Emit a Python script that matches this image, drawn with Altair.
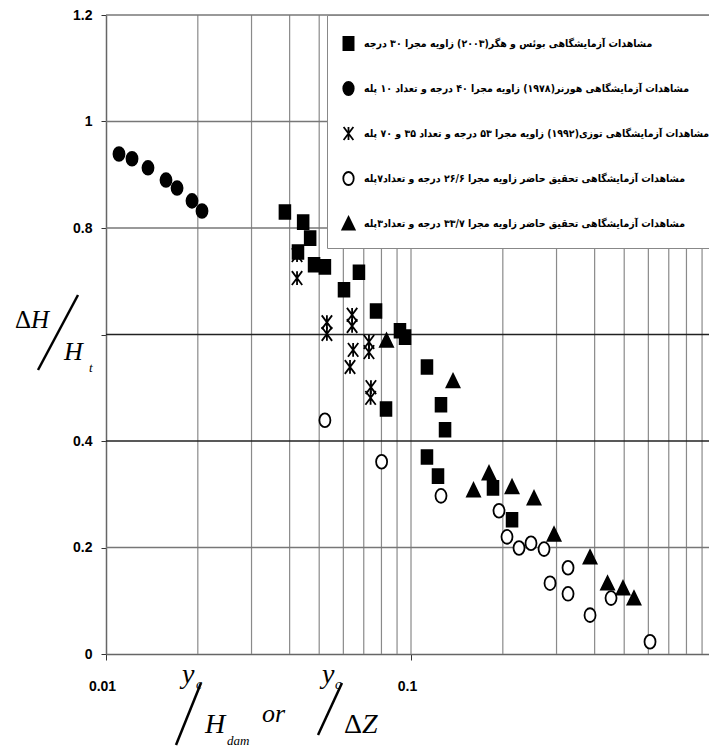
import altair as alt
import pandas as pd

# ---------------- data ----------------
series_names = [
    "مشاهدات آزمایشگاهی بوئس و هگر(۲۰۰۳) زاویه مجرا ۳۰ درجه",
    "مشاهدات آزمایشگاهی هورنر(۱۹۷۸) زاویه مجرا ۴۰ درجه و تعداد ۱۰ پله",
    "مشاهدات آزمایشگاهی توزی(۱۹۹۲) زاویه مجرا ۵۳ درجه و تعداد ۳۵ و ۷۰ پله",
    "مشاهدات آزمایشگاهی تحقیق حاضر زاویه مجرا ۲۶/۶ درجه و تعداد۷پله",
    "مشاهدات آزمایشگاهی تحقیق حاضر زاویه مجرا ۳۳/۷ درجه و تعداد۳پله",
]

boes_x = [0.0386, 0.0443, 0.0467, 0.0426, 0.0481, 0.0522, 0.0675, 0.0603, 0.0768, 0.0920,
          0.0956, 0.1128, 0.0828, 0.1254, 0.1293, 0.1128, 0.1226, 0.1857, 0.2144]
boes_y = [0.830, 0.811, 0.781, 0.755, 0.731, 0.727, 0.717, 0.684, 0.644, 0.607,
          0.595, 0.539, 0.460, 0.468, 0.421, 0.370, 0.334, 0.312, 0.252]

horner_x = [0.01103, 0.01217, 0.01373, 0.01573, 0.01710, 0.01914, 0.02064]
horner_y = [0.939, 0.930, 0.913, 0.890, 0.875, 0.851, 0.832]

tozzi_x = [0.0423, 0.0423, 0.0530, 0.0530, 0.0641, 0.0641, 0.0646, 0.0631, 0.0728, 0.0728, 0.0739, 0.0737]
tozzi_y = [0.749, 0.706, 0.623, 0.601, 0.637, 0.616, 0.571, 0.539, 0.586, 0.567, 0.501, 0.481]

present7_x = [0.0522, 0.0801, 0.1254, 0.1943, 0.2064, 0.2260, 0.2474, 0.2730, 0.2856, 0.3272,
              0.3272, 0.3863, 0.4527, 0.6076]
present7_y = [0.439, 0.361, 0.297, 0.269, 0.220, 0.199, 0.208, 0.197, 0.133, 0.162,
              0.113, 0.073, 0.105, 0.023]

present3_x = [0.0831, 0.1373, 0.1603, 0.1802, 0.2144, 0.2531, 0.2944, 0.3863, 0.4410, 0.4955, 0.5383]
present3_y = [0.589, 0.513, 0.308, 0.340, 0.314, 0.293, 0.225, 0.182, 0.133, 0.124, 0.105]

x_grid = [0.02, 0.03, 0.04, 0.05, 0.06, 0.07, 0.08, 0.09, 0.1,
          0.2, 0.3, 0.4, 0.5, 0.6, 0.7, 0.8, 0.9]
y_grid_light = [0.2, 0.8, 1.0, 1.2]
y_grid_dark = [0.4, 0.6]
x_tick_values = [0.01, 0.1]
y_tick_values = [0, 0.2, 0.4, 0.6, 0.8, 1.0, 1.2]

# ---------------- build tables ----------------
frames = []
for name, xs, ys in zip(series_names,
                        [boes_x, horner_x, tozzi_x, present7_x, present3_x],
                        [boes_y, horner_y, tozzi_y, present7_y, present3_y]):
    frames.append(pd.DataFrame({"x": xs, "y": ys, "series": name}))
pts = pd.concat(frames, ignore_index=True)

shape_square = "M-0.78,-1H0.78V1H-0.78Z"
shape_ellipse = "M0,-1A0.8,1 0 1,1 0,1A0.8,1 0 1,1 0,-1Z"
shape_star = "M-0.75,-1L0.75,1M0.75,-1L-0.75,1M0,-1V1"
shape_tri = "M0,-1L0.95,0.95H-0.95Z"

xscale = alt.Scale(type="log", domain=[0.01, 0.9484], nice=False)
yscale = alt.Scale(domain=[0, 1.2], nice=False)

xaxis = alt.Axis(values=x_tick_values, format="~g", grid=False, title=None,
                 tickSize=6, tickColor="#333", domainColor="#666", domainWidth=1.5,
                 labelPadding=19, labelOffset=-4, labelFlush=False,
                 labelFont="Liberation Sans",
                 labelFontSize=14, labelFontWeight="bold", labelColor="black")
yaxis = alt.Axis(values=y_tick_values, format="~g", grid=False, title=None,
                 labelExpr="datum.value == 0.6 ? '' : datum.label",
                 tickSize=5, tickColor="#333", domainColor="#666", domainWidth=1.5,
                 labelPadding=9, labelFlush=False, labelFont="Liberation Sans",
                 labelFontSize=14, labelFontWeight="bold", labelColor="black")

X = alt.X("x:Q", scale=xscale, axis=xaxis)
Y = alt.Y("y:Q", scale=yscale, axis=yaxis)

vgrid = alt.Chart(pd.DataFrame({"x": x_grid})).mark_rule(
    color="#8a8a8a", strokeWidth=1.2).encode(x=X)
hgrid_l = alt.Chart(pd.DataFrame({"y": y_grid_light})).mark_rule(
    color="#777777", strokeWidth=1.5).encode(y=Y)
hgrid_d = alt.Chart(pd.DataFrame({"y": y_grid_dark})).mark_rule(
    color="#222222", strokeWidth=1.5).encode(y=Y)


def legend():
    return alt.Legend(title=" ", titleFontSize=4, titlePadding=3,
                      orient="none", legendX=221, legendY=0,
                      fillColor="white", strokeColor="#888", padding=14,
                      rowPadding=24, labelOffset=8, labelLimit=600,
                      labelFont="DejaVu Sans Condensed, DejaVu Sans", labelFontSize=10.5,
                      labelFontWeight="bold", labelColor="black",
                      symbolSize=170, symbolStrokeWidth=1.8,
                      symbolStrokeColor="black")


points = alt.Chart(pts).mark_point(size=190, strokeWidth=1.8, opacity=1, fillOpacity=1).encode(
    x=X, y=Y,
    shape=alt.Shape("series:N", scale=alt.Scale(
        domain=series_names,
        range=[shape_square, shape_ellipse, shape_star, shape_ellipse, shape_tri]),
        legend=legend()),
    fill=alt.Fill("series:N", scale=alt.Scale(
        domain=series_names,
        range=["black", "black", "transparent", "white", "black"]), legend=legend()),
    stroke=alt.Stroke("series:N", scale=alt.Scale(
        domain=series_names,
        range=["black", "black", "black", "black", "black"]), legend=legend()),
)

one = pd.DataFrame({"a": [0]})


def txt(s, x, y, size, italic=True):
    return alt.Chart(one).mark_text(
        text=s, align="left", baseline="alphabetic", font="Liberation Serif",
        fontSize=size, fontStyle="italic" if italic else "normal", color="black"
    ).encode(x=alt.value(x), y=alt.value(y))


def slash(x1, y1, x2, y2):
    return alt.Chart(one).mark_rule(color="black", strokeWidth=2.5).encode(
        x=alt.value(x1), y=alt.value(y1), x2=alt.value(x2), y2=alt.value(y2))


labels = [
    # y-axis title  ΔH / H_t
    txt("Δ", -91, 313, 25, italic=False),
    txt("H", -75, 313, 25),
    slash(-68, 355, -28, 280),
    txt("H", -42, 345, 26),
    txt("t", -17, 357, 13),
    # x-axis title  y_c / H_dam  or  y_c / ΔZ
    txt("y", 76, 668, 28),
    txt("c", 90, 674, 14),
    slash(70, 730, 95, 668),
    txt("H", 99, 718, 28),
    txt("dam", 121, 730, 13),
    txt("or", 156, 707, 26),
    txt("y", 216, 668, 28),
    txt("c", 229, 674, 14),
    slash(212, 720, 236, 668),
    txt("Δ", 238, 718, 28, italic=False),
    txt("Z", 256, 718, 28),
]

chart = alt.layer(vgrid, hgrid_l, hgrid_d, points, *labels).properties(
    width=603, height=639,
    autosize=alt.AutoSizeParams(type="none"),
    padding={"left": 106, "top": 15, "right": 0, "bottom": 94},
    background="white",
).configure_view(strokeWidth=0)

chart.save("out.html", embed_options={"renderer": "svg", "actions": False})
